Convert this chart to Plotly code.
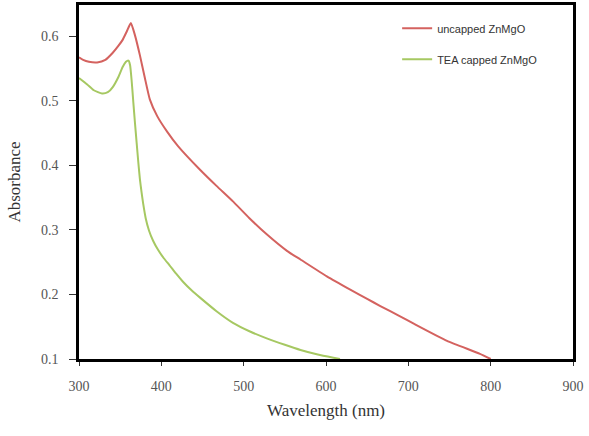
import plotly.graph_objects as go

# Absorbance spectra of ZnMgO nanoparticles
wl_uncapped = [300, 305, 312, 322, 332, 341, 348, 353, 358, 363, 368, 374, 380, 386,
               395, 407, 420, 447, 467, 487, 507, 528, 553, 569, 601, 630, 650, 666,
               690, 706, 747, 787, 800]
abs_uncapped = [0.567, 0.563, 0.560, 0.559, 0.563, 0.574, 0.585, 0.594, 0.607, 0.620,
                0.601, 0.570, 0.535, 0.502, 0.476, 0.452, 0.430, 0.393, 0.368, 0.344,
                0.318, 0.293, 0.267, 0.254, 0.228, 0.207, 0.193, 0.182, 0.166, 0.155,
                0.128, 0.108, 0.100]

wl_tea = [300, 310, 318, 328, 335, 341, 348, 353, 357, 360, 362, 364, 366, 368, 370,
          372, 374, 376, 378, 381, 385, 390, 396, 403, 410, 418, 426, 437, 447, 467,
          487, 507, 528, 550, 569, 590, 609, 617]
abs_tea = [0.535, 0.525, 0.516, 0.511, 0.513, 0.521, 0.537, 0.552, 0.560, 0.562, 0.555,
           0.530, 0.497, 0.465, 0.435, 0.405, 0.378, 0.358, 0.340, 0.318, 0.299, 0.283,
           0.269, 0.256, 0.245, 0.232, 0.220, 0.206, 0.195, 0.174, 0.156, 0.143, 0.132,
           0.122, 0.114, 0.107, 0.102, 0.100]

x_ticks = [300, 400, 500, 600, 700, 800, 900]
y_ticks = [0.1, 0.2, 0.3, 0.4, 0.5, 0.6]

fig = go.Figure()
fig.add_trace(go.Scatter(x=wl_uncapped, y=abs_uncapped, mode="lines",
                         name="uncapped ZnMgO", legendgroup="a",
                         line=dict(color="#D4625F", width=2, shape="spline", smoothing=0.5)))
fig.add_trace(go.Scatter(x=wl_tea, y=abs_tea, mode="lines",
                         name="TEA capped ZnMgO", legendgroup="b",
                         line=dict(color="#A6C862", width=2, shape="spline", smoothing=0.5)))

serif = "Liberation Serif, Times New Roman, serif"
fig.update_layout(
    width=589, height=436,
    margin=dict(l=79, r=16, t=2, b=77),
    paper_bgcolor="white", plot_bgcolor="white",
    legend=dict(x=0.644, y=0.975, xanchor="left", yanchor="top",
                font=dict(family="Liberation Sans, Arial, sans-serif", size=11, color="#333"),
                bgcolor="rgba(0,0,0,0)", tracegroupgap=12),
    xaxis=dict(range=[300, 900], tickvals=x_ticks, showline=True, mirror=True,
               linecolor="black", linewidth=2.5, ticks="outside", ticklen=4,
               tickcolor="#333", tickwidth=1, showgrid=False, zeroline=False,
               ticklabelstandoff=8,
               tickfont=dict(family=serif, size=14, color="#555"),
               title=dict(text="Wavelength (nm)", standoff=12,
                          font=dict(family=serif, size=17, color="#333"))),
    yaxis=dict(range=[0.1, 0.648], tickvals=y_ticks, tickformat=".1f", showline=True,
               mirror=True, linecolor="black", linewidth=2.5, ticks="outside", ticklen=7,
               tickcolor="#333", tickwidth=1, showgrid=False, zeroline=False,
               ticklabelstandoff=8,
               tickfont=dict(family=serif, size=14, color="#555"),
               title=dict(text="Absorbance", standoff=17,
                          font=dict(family=serif, size=17, color="#333"))),
)

fig.write_html("out.html")
